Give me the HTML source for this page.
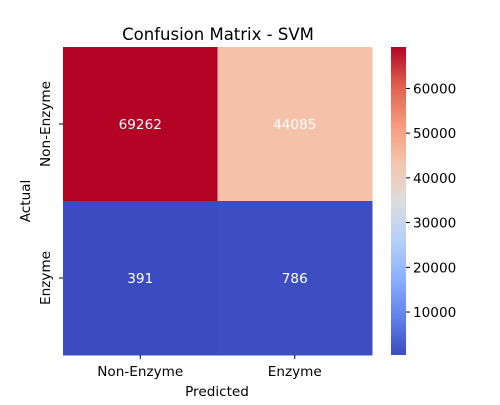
<!DOCTYPE html>
<html><head><meta charset="utf-8"><style>
body{margin:0;background:#fff;}
svg text{font-family:"DejaVu Sans","Liberation Sans",sans-serif;}
</style></head><body>
<svg id="chart" width="500" height="400" xmlns="http://www.w3.org/2000/svg">
<text x="218" y="40" font-size="16.5" text-anchor="middle">Confusion Matrix - SVM</text>
<g id="cells"></g>
<g id="cbar"></g>
<text x="217" y="396" font-size="13.6" text-anchor="middle">Predicted</text>
<text transform="translate(30,201) rotate(-90)" font-size="13.6" text-anchor="middle">Actual</text>
</svg>
<script>
const xLabels=["Non-Enzyme","Enzyme"];
const yLabels=["Non-Enzyme","Enzyme"];
const values=[[69262,44085],[391,786]];
const cbarTicks=[10000,20000,30000,40000,50000,60000];
const NS="http://www.w3.org/2000/svg";
const X0=63,Y0=47,W=309,H=308;
const flat=values.flat();
const vmin=Math.min(...flat),vmax=Math.max(...flat);
const stops=[[59,76,192],[98,130,234],[141,176,254],[184,208,249],[221,221,221],[245,196,173],[244,154,123],[222,96,77],[180,4,38]];
function cmap(v){let t=(v-vmin)/(vmax-vmin);t=Math.max(0,Math.min(1,t));const p=t*8,i=Math.min(7,Math.floor(p)),f=p-i;const a=stops[i],b=stops[i+1];return `rgb(${a.map((c,k)=>Math.round(c+(b[k]-c)*f)).join(',')})`;}
function el(t,attrs,parent){const e=document.createElementNS(NS,t);for(const k in attrs)e.setAttribute(k,attrs[k]);parent.appendChild(e);return e;}
const svg=document.getElementById('chart');
const cells=document.getElementById('cells');
const cw=W/xLabels.length,ch=H/yLabels.length;
values.forEach((row,r)=>row.forEach((v,c)=>{
  const rect=el('rect',{x:X0+c*cw,y:Y0+r*ch,width:cw+0.5,height:ch+0.5,fill:cmap(v)},cells);
  
  
  const t=el('text',{x:X0+(c+0.5)*cw,y:Y0+(r+0.5)*ch+5,'font-size':13.6,'text-anchor':'middle',fill:'#fff'},cells);
  t.textContent=v;
  
  
}));
xLabels.forEach((l,i)=>{
  const x=X0+(i+0.5)*cw;
  el('line',{x1:x,x2:x,y1:Y0+H,y2:Y0+H+4,stroke:'#000'},cells);
  const t=el('text',{x:x,y:Y0+H+21,'font-size':13.6,'text-anchor':'middle'},cells);
  t.textContent=l;
  
  
});
yLabels.forEach((l,i)=>{
  const y=Y0+(i+0.5)*ch;
  el('line',{x1:X0-4,x2:X0,y1:y,y2:y,stroke:'#000'},cells);
  const t=el('text',{transform:`translate(${X0-13},${y}) rotate(-90)`,'font-size':13.6,'text-anchor':'middle'},cells);
  t.textContent=l;
  
  
});
const cb=document.getElementById('cbar');
const CX=391,CW=15;
const defs=el('defs',{},svg);
const g=el('linearGradient',{id:'cg',x1:0,y1:1,x2:0,y2:0},defs);
stops.forEach((s,i)=>el('stop',{offset:i/8,'stop-color':`rgb(${s.join(',')})`},g));
const bar=el('rect',{x:CX,y:Y0,width:CW,height:H,fill:'url(#cg)'},cb);


function cy(v){return Y0+H-(v-vmin)/(vmax-vmin)*H;}
cbarTicks.forEach(v=>{
  const y=cy(v);
  el('line',{x1:CX+CW,x2:CX+CW+4,y1:y,y2:y,stroke:'#000'},cb);
  const t=el('text',{x:CX+CW+7,y:y+5,'font-size':13.6},cb);
  t.textContent=v;
  
  
});
</script>
</body></html>
